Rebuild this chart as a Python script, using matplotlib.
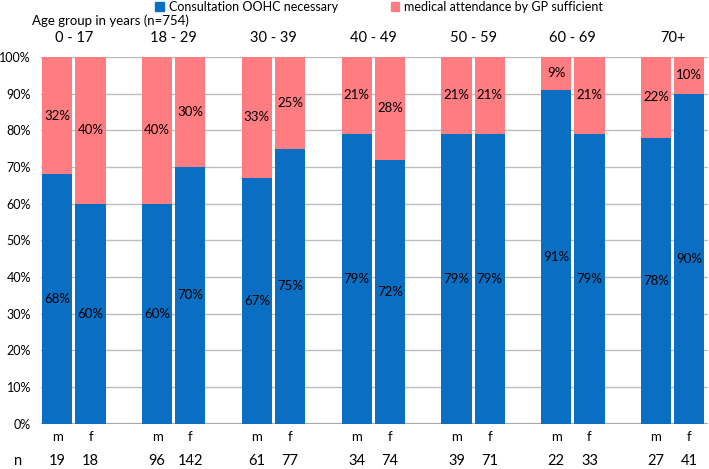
import matplotlib
matplotlib.use("Agg")
import matplotlib.pyplot as plt
from matplotlib.patches import Patch
import numpy as np

groups = ['0 - 17', '18 - 29', '30 - 39', '40 - 49', '50 - 59', '60 - 69', '70+']
oohc_m = [68, 60, 67, 79, 79, 91, 78]
oohc_f = [60, 70, 75, 72, 79, 79, 90]
gp_m = [32, 40, 33, 21, 21, 9, 22]
gp_f = [40, 30, 25, 28, 21, 21, 10]
n_m = [19, 96, 61, 34, 39, 22, 27]
n_f = [18, 142, 77, 74, 71, 33, 41]
series_names = ['Consultation OOHC necessary', 'medical attendance by GP sufficient']

blue = '#0A6FC2'
pink = '#FF7C80'

plt.rcParams['font.family'] = ['Lato', 'DejaVu Sans']
plt.rcParams['font.size'] = 9

fig = plt.figure(figsize=(7.09, 4.69), dpi=100)
ax = fig.add_axes([0.0574, 0.097, 0.9405, 0.7815])

xm = np.arange(len(groups)) * 3
xf = xm + 1
w = 0.91

ax.bar(xm, oohc_m, w, color=blue, zorder=2)
ax.bar(xf, oohc_f, w, color=blue, zorder=2)
ax.bar(xm, gp_m, w, bottom=oohc_m, color=pink, zorder=2)
ax.bar(xf, gp_f, w, bottom=oohc_f, color=pink, zorder=2)

# percentage labels in the middle of each segment
for xs, bl, pk in [(xm, oohc_m, gp_m), (xf, oohc_f, gp_f)]:
    for x, b, p in zip(xs, bl, pk):
        ax.text(x, b / 2, f'{b}%', ha='center', va='center', fontsize=9.5, zorder=3)
        ax.text(x, b + p / 2, f'{p}%', ha='center', va='center', fontsize=9.5, zorder=3)

ax.set_ylim(0, 100)
ax.set_xlim(-0.5, 19.55)
ax.set_yticks(np.arange(0, 101, 10))
ax.set_yticklabels([f'{v}%' for v in range(0, 101, 10)])
ax.tick_params(axis='y', length=0, pad=7, labelsize=9)
ax.set_xticks([])
ax.yaxis.grid(True, color='#BDBDBD', linewidth=1.0, zorder=0)
ax.axhline(0, color='#A6A6A6', linewidth=1.6, zorder=1)
for s in ax.spines.values():
    s.set_visible(False)

tr = ax.get_xaxis_transform()
n_y = (423.5 - 461) / 366.5
for i, g in enumerate(groups):
    ax.text(xm[i] + 0.5, 1.052, g, transform=tr, ha='center', va='center', fontsize=10.5)
    ax.text(xm[i], -0.037, 'm', transform=tr, ha='center', va='center', fontsize=9.5)
    ax.text(xf[i], -0.037, 'f', transform=tr, ha='center', va='center', fontsize=9.5)
    ax.text(xm[i], n_y, str(n_m[i]), transform=tr, ha='center', va='center', fontsize=10.5)
    ax.text(xf[i], n_y, str(n_f[i]), transform=tr, ha='center', va='center', fontsize=10.5)

fig.text(18 / 709, 1 - 461 / 469, 'n', ha='center', va='center', fontsize=10.5)
fig.text(32 / 709, 1 - 21 / 469, 'Age group in years (n=754)', ha='left', va='center', fontsize=9.5)

handles = [Patch(color=blue), Patch(color=pink)]
fig.legend(handles, series_names, loc='center', bbox_to_anchor=(0.535, 0.985), ncol=2,
           frameon=False, handlelength=0.7, handleheight=0.7, handletextpad=0.4,
           columnspacing=4.2, fontsize=9, borderpad=0)

fig.savefig('out.png', dpi=100)
